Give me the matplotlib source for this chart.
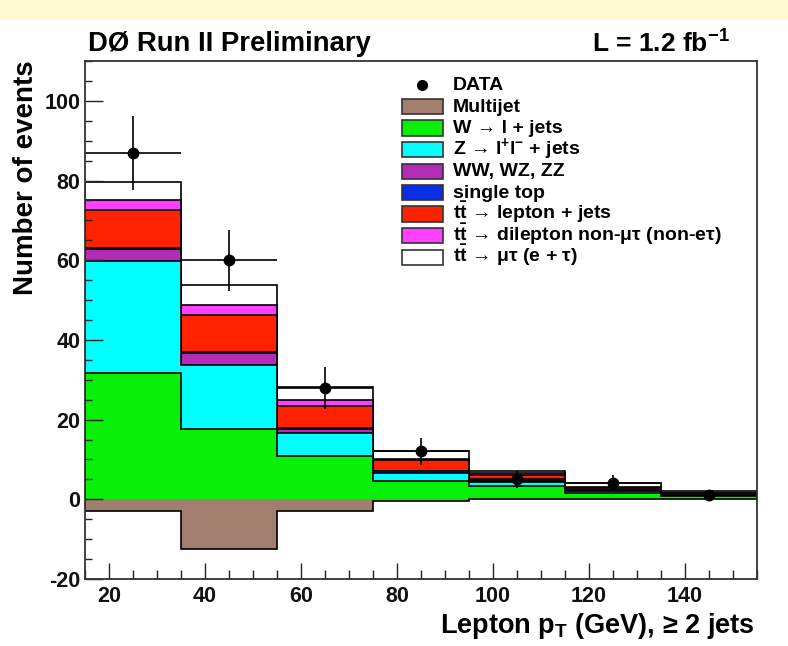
import matplotlib
matplotlib.use("Agg")
import matplotlib.pyplot as plt
from matplotlib.patches import Rectangle
from matplotlib.lines import Line2D
from matplotlib.ticker import MultipleLocator
import numpy as np

plt.rcParams['font.family'] = ['Liberation Sans', 'DejaVu Sans']
plt.rcParams['font.weight'] = 'bold'
plt.rcParams['mathtext.default'] = 'regular'
plt.rcParams['axes.unicode_minus'] = False

# bins in lepton pT (GeV)
edges = [15, 35, 55, 75, 95, 115, 135, 155]
centers = [25, 45, 65, 85, 105, 125, 145]

# observed data and its errors
data = [87, 60, 28, 12, 5, 4, 1]
data_err = [9.3, 7.7, 5.3, 3.5, 2.2, 2.0, 1.0]

# background / signal expectations (events per bin)
multijet = [-3.0, -12.4, -3.0, -0.3, 0.0, 0.0, 0.0]
w_jets = [31.8, 17.6, 10.9, 4.6, 3.3, 1.6, 0.8]
z_jets = [28.0, 16.2, 5.8, 2.0, 1.1, 0.5, 0.3]
diboson = [3.0, 2.8, 1.0, 0.4, 0.2, 0.1, 0.05]
single_top = [0.3, 0.3, 0.3, 0.1, 0.1, 0.05, 0.05]
tt_ljets = [9.6, 9.4, 5.4, 2.7, 1.5, 0.6, 0.4]
tt_dilep = [2.5, 2.4, 1.5, 0.4, 0.3, 0.2, 0.1]
tt_mutau = [4.5, 5.0, 3.4, 1.9, 0.5, 1.1, 0.3]

stack = [w_jets, z_jets, diboson, single_top, tt_ljets, tt_dilep, tt_mutau]
colors = ['#08f008', '#00ffff', '#b22cb6', '#0a2ee6', '#ff2200', '#ff40ff', '#ffffff']
mj_color = '#a27e6e'
labels = ['W → l + jets',
          r'Z → l$^{+}$l$^{-}$ + jets',
          'WW, WZ, ZZ',
          'single top',
          r't$\bar{t}$ → lepton + jets',
          r't$\bar{t}$ → dilepton non-μτ (non-eτ)',
          r't$\bar{t}$ → μτ (e + τ)']

W, H = 788, 646
fig = plt.figure(figsize=(W / 100, H / 100), dpi=100)
fig.patches.append(Rectangle((0, 1 - 20 / H), 1, 20 / H, transform=fig.transFigure,
                             facecolor='#fefbd2', edgecolor='none'))
ax = fig.add_axes([85 / W, 1 - 579 / H, 672 / W, 518 / H])

# stacked histogram, drawn from the top down like ROOT
cum = np.cumsum(np.array(stack), axis=0)
for i in range(len(stack) - 1, -1, -1):
    ax.stairs(cum[i], edges, baseline=0, fill=True, facecolor=colors[i],
              edgecolor='black', linewidth=1.2)
ax.stairs(multijet, edges, baseline=0, fill=True, facecolor=mj_color,
          edgecolor='black', linewidth=1.2)

ax.errorbar(centers, data, yerr=data_err, xerr=10, fmt='o', color='black',
            ms=7.5, elinewidth=1.2, capsize=0)

ax.set_xlim(15, 155)
ax.set_ylim(-20, 110)
ax.xaxis.set_major_locator(MultipleLocator(20))
ax.xaxis.set_minor_locator(MultipleLocator(5))
ax.yaxis.set_major_locator(MultipleLocator(20))
ax.yaxis.set_minor_locator(MultipleLocator(5))
ax.tick_params(axis='both', which='both', direction='in', top=False, right=False,
               labelsize=15.5, width=1.0, colors='#222222', labelcolor='#111111')
ax.tick_params(axis='y', which='major', length=13, pad=3.5)
ax.tick_params(axis='y', which='minor', length=5)
ax.tick_params(axis='x', which='major', length=11.5, pad=5)
ax.tick_params(axis='x', which='minor', length=6.5)
for s in ax.spines.values():
    s.set_linewidth(1.3)
    s.set_color('#333333')


def px(x, y):
    return x / W, 1 - y / H


# axis titles
fig.text(*px(26, 60), 'Number of events', fontsize=20, rotation=90,
         ha='center', va='top')
fig.text(*px(755, 633), r'Lepton p$_{T}$ (GeV), ≥ 2 jets', fontsize=19.5,
         ha='right', va='baseline')

fig.text(*px(88, 44), 'DØ Run II Preliminary', fontsize=19.8, va='center', ha='left')
fig.text(*px(730, 44), r'L = 1.2 fb$^{-1}$', fontsize=19, va='center', ha='right')

# legend drawn by hand
leg_x0, leg_w, leg_h, txt_x = 402, 41, 15, 453
row0, step = 85, 21.5
ax.add_artist(Line2D([px(422, 0)[0]], [px(0, row0)[1]], marker='o', color='black',
                     ms=7, transform=fig.transFigure, clip_on=False))
fig.text(*px(txt_x, row0), 'DATA', fontsize=14, va='center', ha='left')
entries = [(mj_color, 'Multijet')] + list(zip(colors, labels))
for k, (c, lab) in enumerate(entries):
    yc = row0 + step * (k + 1)
    x0, y0 = px(leg_x0, yc + leg_h / 2)
    fig.patches.append(Rectangle((x0, y0), leg_w / W, leg_h / H, transform=fig.transFigure,
                                 facecolor=c, edgecolor='#333333', linewidth=1.2))
    fig.text(*px(txt_x, yc + 5), lab, fontsize=14, va='baseline', ha='left')

fig.savefig('out.png', dpi=100)
